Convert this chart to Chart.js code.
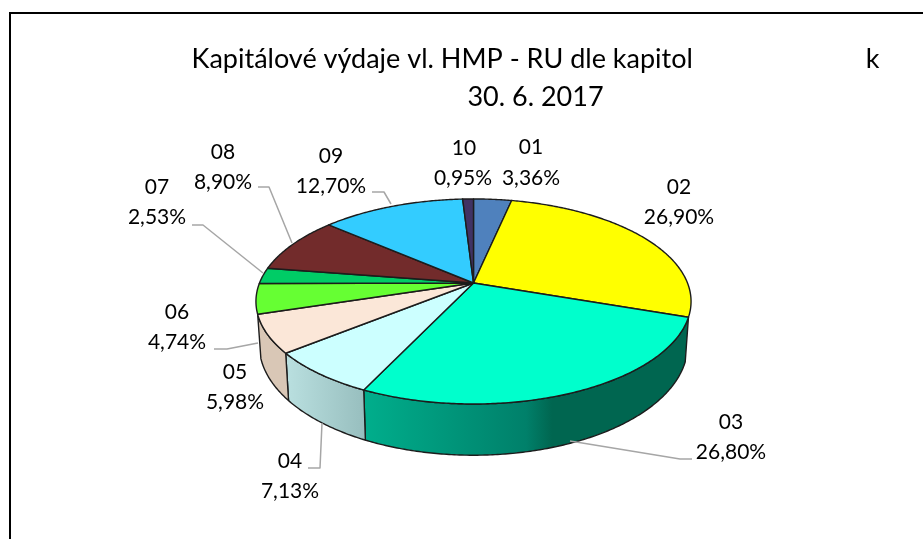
<!DOCTYPE html>
<html><head><meta charset="utf-8">
<style>html,body{margin:0;padding:0;background:#fff}#w{position:absolute;left:0;top:0;width:923px;height:539px}</style>
<script src="https://cdn.jsdelivr.net/npm/chart.js@4"></script>
</head><body><div id="w"><canvas id="c"></canvas></div>
<script>
const chapters = ['01','02','03','04','05','06','07','08','09','10'];
const shares = [3.36,26.90,26.80,7.13,5.98,4.74,2.53,8.90,12.70,0.95];
const shareLabels = ['3,36%','26,90%','26,80%','7,13%','5,98%','4,74%','2,53%','8,90%','12,70%','0,95%'];
const topColors = ['#4F81BD','#FFFF00','#00FFCC','#CCFFFF','#FBE7D8','#66FF33','#00CC66','#722B2B','#33CCFF','#403264'];
const titleLines = ['Kapitálové výdaje vl. HMP - RU dle kapitol'+' '.repeat(25)+'k','30. 6. 2017'];

// Perspective view of the pie
const CX=473.5, CY=283, RX=214, RY=99.2, K=0.18, DEPTH=42, INSET=0.985;
function proj(a){ // a = chart.js arc angle (0 = 3 o'clock, clockwise)
  const u=Math.cos(a), v=Math.sin(a), w=1-K*v;
  return {x:CX+RX*u/w, y:CY+RY*v/w, h:DEPTH/w};
}
function rimPts(a0,a1){
  const n=Math.max(2,Math.ceil((a1-a0)/0.01)), p=[];
  for(let i=0;i<=n;i++) p.push(proj(a0+(a1-a0)*i/n));
  return p;
}
function lower(p){return {x:CX+(p.x-CX)*INSET,y:p.y+p.h};}
// only these slices show a wall in the reference
const wallStyles = {
  2:[[0,'#00AE8C'],[0.5,'#00806A'],[0.58,'#006650'],[1,'#006650']],
  3:[[0,'#BAE0E0'],[1,'#97BEBE']],
  4:[[0,'#D9C7B6'],[1,'#D9C7B6']]
};
// Label anchors and leader lines (pixel layout only)
const labelPos = {0:[531,147,531,178],1:[679,187,679,217],2:[731,422,731,452],3:[290,461,290,491],4:[235,372,235,402],
  5:[177,312,177,342],6:[157,187,157,217],7:[223,152,223,182],8:[331,156,331,186],9:[464,148,463,178]};
const leaders = [
  [[692,459],[680,459],[570,441]],
  [[308,468],[320,468],[322,423]],
  [[214,349],[227,349],[258,343]],
  [[192,225],[203,225],[263,273]],
  [[258,187],[269,187],[292,243]],
  [[372,192],[384,192],[391,204]]
];

const view3d = {
  id:'view3d',
  beforeDraw(chart){
    const c=chart.ctx; c.save();
    c.fillStyle='#fff'; c.fillRect(0,0,923,539);
    c.strokeStyle='#000'; c.lineWidth=2;
    c.beginPath(); c.moveTo(10,539); c.lineTo(10,13); c.lineTo(923,13); c.stroke();
    c.restore();
  },
  beforeDatasetsDraw(chart){
    const c=chart.ctx, arcs=chart.getDatasetMeta(0).data;
    c.save(); c.lineJoin='round';
    // side walls
    arcs.forEach((arc,i)=>{
      if(!wallStyles[i]) return;
      const top=rimPts(arc.startAngle,arc.endAngle), bot=top.map(lower).reverse();
      const xs=top.concat(bot).map(p=>p.x), minX=Math.min(...xs), maxX=Math.max(...xs);
      const g=c.createLinearGradient(minX,0,maxX,0);
      wallStyles[i].forEach(s=>g.addColorStop(s[0],s[1]));
      c.beginPath();
      top.concat(bot).forEach((p,j)=>j?c.lineTo(p.x,p.y):c.moveTo(p.x,p.y));
      c.closePath(); c.fillStyle=g; c.fill();
      c.strokeStyle='#1c1c1c'; c.lineWidth=1.4; c.stroke();
    });
    // top faces
    arcs.forEach((arc)=>{
      const rim=rimPts(arc.startAngle,arc.endAngle);
      c.beginPath(); c.moveTo(CX,CY);
      rim.forEach(p=>c.lineTo(p.x,p.y));
      c.closePath(); c.fillStyle=arc.options.backgroundColor; c.fill();
      c.strokeStyle='#1c1c1c'; c.lineWidth=1.4; c.stroke();
    });
    // leader lines
    c.strokeStyle='#A6A6A6'; c.lineWidth=1.5;
    leaders.forEach(l=>{c.beginPath();l.forEach((p,j)=>j?c.lineTo(p[0],p[1]):c.moveTo(p[0],p[1]));c.stroke();});
    // labels
    c.fillStyle='#000'; c.font='21px Lato'; c.textAlign='center'; c.textBaseline='middle';
    chapters.forEach((n,i)=>{
      const q=labelPos[i];
      c.fillText(n,q[0],q[1]); c.fillText(shareLabels[i],q[2],q[3]);
    });
    c.restore();
    return false;
  }
};

new Chart(document.getElementById('c'),{
  type:'pie',
  data:{labels:chapters,datasets:[{data:shares,backgroundColor:topColors,borderWidth:0}]},
  options:{
    responsive:true,maintainAspectRatio:false,animation:false,
    layout:{padding:{left:148}},
    plugins:{
      legend:{display:false},tooltip:{enabled:false},
      title:{display:true,text:titleLines,color:'#000',align:'center',
        font:{family:'Lato',size:27,weight:'normal',lineHeight:1.407},padding:{top:40,bottom:0}}
    }
  },
  plugins:[view3d]
});
</script></body></html>
